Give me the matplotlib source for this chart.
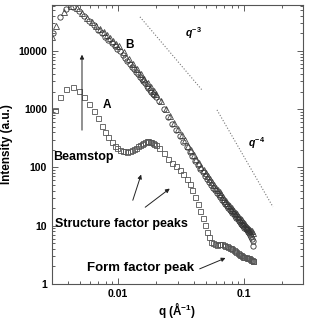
import matplotlib
matplotlib.use("Agg")
import matplotlib.pyplot as plt
from matplotlib.ticker import FixedLocator, FixedFormatter, LogLocator, NullFormatter

plt.rcParams['font.family'] = ['Liberation Sans', 'DejaVu Sans']
plt.rcParams['font.weight'] = 'bold'
plt.rcParams['mathtext.fontset'] = 'custom'
plt.rcParams['mathtext.rm'] = 'Liberation Sans:bold'
plt.rcParams['mathtext.it'] = 'Liberation Sans:bold:italic'

# curve A (squares)
q_A = [0.00316, 0.00345, 0.0039, 0.0044, 0.0049, 0.0054, 0.0059, 0.0064, 0.0069, 0.0074,
       0.0079, 0.0084, 0.0089, 0.0094, 0.0099, 0.0104, 0.0109, 0.0114, 0.0119, 0.0124,
       0.0129, 0.0134, 0.0139, 0.0144, 0.0149, 0.0154, 0.0159, 0.0164, 0.0169, 0.0174,
       0.0179, 0.0184, 0.0189, 0.0194, 0.0199, 0.021, 0.023, 0.025, 0.027, 0.029,
       0.031, 0.033, 0.035, 0.037, 0.039, 0.041, 0.043, 0.045, 0.047, 0.049,
       0.051, 0.053, 0.055, 0.057, 0.059, 0.061, 0.063, 0.065, 0.067, 0.069,
       0.071, 0.073, 0.075, 0.077, 0.079, 0.081, 0.083, 0.085, 0.087, 0.089,
       0.091, 0.093, 0.095, 0.097, 0.099, 0.101, 0.103, 0.105, 0.107, 0.109,
       0.111, 0.113, 0.115, 0.117, 0.119]
I_A = [971, 1640, 2225, 2355, 2046, 1614, 1245, 946, 697, 520,
       401, 327, 271, 230, 213, 200, 191, 188, 185, 190,
       196, 205, 217, 230, 243, 254, 266, 278, 284, 281,
       278, 275, 267, 254, 243, 219, 174, 141, 120, 105,
       89.3, 76.0, 63.7, 51.8, 40.8, 31.0, 23.7, 18.0, 13.6, 10.3,
       7.77, 6.27, 5.33, 4.98, 4.85, 4.74, 4.8, 4.85, 4.8, 4.65,
       4.5, 4.4, 4.3, 4.2, 4.1, 3.95, 3.8, 3.65, 3.5, 3.4,
       3.3, 3.2, 3.1, 3.0, 2.95, 2.9, 2.85, 2.82, 2.78, 2.75,
       2.7, 2.62, 2.55, 2.5, 2.45]

# curve B (circles)
q_B = [0.00305, 0.00345, 0.0039, 0.0044, 0.0049, 0.0054, 0.0059, 0.0064, 0.0069, 0.0074,
       0.0079, 0.0084, 0.0089, 0.0094, 0.0099, 0.0104, 0.0109, 0.0114, 0.0119, 0.0124,
       0.0129, 0.0134, 0.0139, 0.0144, 0.0149, 0.0154, 0.0159, 0.0164, 0.0169, 0.0174,
       0.0179, 0.0184, 0.0189, 0.0194, 0.0199, 0.021, 0.023, 0.025, 0.027, 0.029,
       0.031, 0.033, 0.035, 0.037, 0.039, 0.041, 0.043, 0.045, 0.047, 0.049,
       0.051, 0.053, 0.055, 0.057, 0.059, 0.061, 0.063, 0.065, 0.067, 0.069,
       0.071, 0.073, 0.075, 0.077, 0.079, 0.081, 0.083, 0.085, 0.087, 0.089,
       0.091, 0.093, 0.095, 0.097, 0.099, 0.101, 0.103, 0.105, 0.107, 0.109,
       0.111, 0.113, 0.115, 0.117, 0.119]
I_B = [20400, 38700, 53400, 57800, 48700, 39400, 32700, 27300, 23200, 19900,
       17300, 15100, 13500, 12100, 10900, 9950, 8670, 7640, 6760, 6030,
       5380, 4840, 4360, 3960, 3600, 3290, 3010, 2760, 2540, 2340,
       2160, 1990, 1850, 1720, 1600, 1370, 1000, 741, 562, 435,
       344, 276, 223, 185, 155, 131, 111, 95.3, 82.0, 72.3,
       64.0, 56.8, 50.5, 45.2, 40.6, 36.7, 33.4, 30.6, 28.1, 25.9,
       23.9, 22.0, 20.4, 18.8, 17.7, 16.6, 15.6, 14.6, 13.7, 13.0,
       12.2, 11.6, 10.9, 10.3, 9.77, 9.25, 8.79, 8.37, 7.93, 7.38,
       6.82, 6.30, 5.83, 5.4, 4.5]

# curve B, second set (triangles, upper edge of the band)
q_B2 = [0.0030, 0.0032, 0.0037, 0.0042, 0.0047, 0.0052, 0.0057, 0.0062, 0.0067, 0.0072,
        0.0077, 0.0082, 0.0087, 0.0092, 0.0097, 0.0102, 0.0112, 0.0122, 0.0132, 0.0142,
        0.0152, 0.0162, 0.0172, 0.0182, 0.0192, 0.0202, 0.022, 0.024, 0.026, 0.028,
        0.030, 0.032, 0.034, 0.036, 0.038, 0.040, 0.042, 0.044, 0.046, 0.048,
        0.050, 0.052, 0.054, 0.056, 0.058, 0.060, 0.062, 0.064, 0.066, 0.068,
        0.070, 0.072, 0.074, 0.076, 0.078, 0.080, 0.082, 0.084, 0.086, 0.088,
        0.090, 0.092, 0.094, 0.096, 0.098, 0.100, 0.102, 0.104, 0.106, 0.108,
        0.110, 0.112, 0.114, 0.116, 0.118]
I_B2 = [17000, 27000, 47000, 59000, 54000, 44000, 37000, 31500, 27000, 23500,
        21000, 18500, 16400, 14700, 13300, 12000, 9400, 7400, 5950, 4820,
        3990, 3340, 2830, 2410, 2070, 1790, 1380, 1010, 755, 577,
        452, 360, 290, 237, 198, 166, 141, 120, 103, 90,
        79, 70.3, 62.6, 55.9, 50.2, 45.2, 41, 37.4, 34.3, 31.6,
        29.1, 26.9, 24.8, 22.9, 21.4, 20.0, 18.8, 17.6, 16.6, 15.6,
        14.7, 13.9, 13.1, 12.4, 11.7, 11.1, 10.5, 10.0, 9.5, 9.0,
        8.6, 8.3, 8.2, 8.0, 7.5]

# guide lines
q_g3 = [0.01495, 0.0464]
I_g3 = [38370, 2140]
q_g4 = [0.0611, 0.170]
I_g4 = [971, 21.0]

y_ticks = [1, 10, 100, 1000, 10000]
y_labels = ['1', '10', '100', '1000', '10000']
x_ticks = [0.01, 0.1]
x_labels = ['0.01', '0.1']

fig = plt.figure(figsize=(3.11, 3.26), dpi=100)
ax = fig.add_axes([0.167, 0.129, 0.807, 0.856])
ax.set_xscale('log')
ax.set_yscale('log')

ax.plot(q_B2, I_B2, linestyle='none', marker='^', markersize=3.8, markerfacecolor='none',
        markeredgecolor='#444444', markeredgewidth=0.6)
ax.plot(q_B, I_B, linestyle='none', marker='o', markersize=3.8, markerfacecolor='none',
        markeredgecolor='#333333', markeredgewidth=0.6)
ax.plot(q_A, I_A, linestyle='none', marker='s', markersize=3.6, markerfacecolor='none',
        markeredgecolor='#555555', markeredgewidth=0.6)

ax.plot(q_g3, I_g3, linestyle=':', color='#777777', linewidth=0.8)
ax.plot(q_g4, I_g4, linestyle=':', color='#777777', linewidth=0.8)

ax.set_xlim(0.00299, 0.294)
ax.set_ylim(1, 61600)

ax.yaxis.set_major_locator(FixedLocator(y_ticks))
ax.yaxis.set_major_formatter(FixedFormatter(y_labels))
ax.yaxis.set_minor_locator(LogLocator(base=10, subs=range(2, 10)))
ax.yaxis.set_minor_formatter(NullFormatter())
ax.xaxis.set_major_locator(FixedLocator(x_ticks))
ax.xaxis.set_major_formatter(FixedFormatter(x_labels))
ax.xaxis.set_minor_locator(LogLocator(base=10, subs=range(2, 10)))
ax.xaxis.set_minor_formatter(NullFormatter())

ax.tick_params(which='both', direction='in', top=True, right=True, labelsize=7.5, width=0.6, color='#444444')
ax.tick_params(which='major', length=4)
ax.tick_params(which='minor', length=2)
for s in ax.spines.values():
    s.set_linewidth(0.8)
    s.set_color('#555555')

ax.set_xlabel('q (Å$^{-1}$)', fontsize=8.5, fontweight='bold', labelpad=1)
ax.set_ylabel('Intensity (a.u.)', fontsize=8.5, fontweight='bold', labelpad=4)

ax.text(0.01245, 12700, 'B', fontsize=8.5, fontweight='bold', ha='center', va='center')
ax.text(0.00818, 1183, 'A', fontsize=8.5, fontweight='bold', ha='center', va='center')
ax.text(0.0394, 20400, r'$q^{-3}$', fontsize=7.5, ha='center', va='center')
ax.text(0.1268, 264, r'$q^{-4}$', fontsize=7.5, ha='center', va='center')

ax.text(0.00303, 150, 'Beamstop', fontsize=9, fontweight='bold', ha='left', va='center')
ax.text(0.00318, 10.5, 'Structure factor peaks', fontsize=9, fontweight='bold', ha='left', va='center')
ax.text(0.00567, 1.85, 'Form factor peak', fontsize=9.5, fontweight='bold', ha='left', va='center')

arrow = dict(arrowstyle='-|>', color='#222222', lw=0.7, mutation_scale=6)
ax.annotate('', xy=(0.00518, 9610), xytext=(0.00518, 391), arrowprops=arrow)
ax.annotate('', xy=(0.01551, 83.7), xytext=(0.01291, 24.6), arrowprops=arrow)
ax.annotate('', xy=(0.02683, 46.3), xytext=(0.01580, 19.4), arrowprops=arrow)
ax.annotate('', xy=(0.07487, 2.91), xytext=(0.0425, 1.74), arrowprops=arrow)

fig.savefig('out.png', dpi=100)
